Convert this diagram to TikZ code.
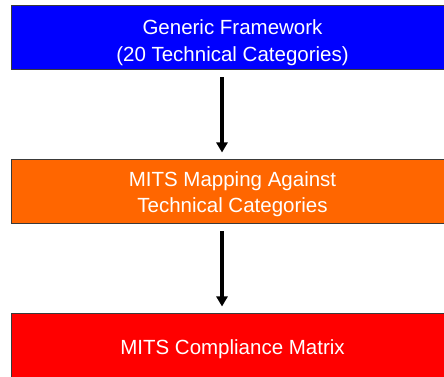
\documentclass[tikz,border=0pt]{standalone}
\usepackage{fontspec}
\setmainfont{Liberation Sans}
\usetikzlibrary{arrows.meta}
\definecolor{boxblue}{HTML}{0000FF}
\definecolor{boxorange}{HTML}{FF6600}
\definecolor{boxred}{HTML}{FF0000}
\definecolor{boxedge}{HTML}{3A3A3A}
\tikzset{
  stagebox/.style={draw=boxedge, line width=1pt, minimum width=443pt, inner sep=0pt},
  stagetext/.style={text=white, align=center, inner sep=0pt, anchor=base,
    font=\fontsize{20.5}{26.5}\selectfont},
  flowarrow/.style={line width=3.4pt, -{Triangle[length=10pt,width=11pt]},
    shorten <=7pt, shorten >=7pt}
}
\begin{document}
\begin{tikzpicture}[x=1pt,y=1pt]
\useasboundingbox (0,0) rectangle (444,377);
\node[stagebox, fill=boxblue, minimum height=64pt] (gen) at (232.5,339) {};
\node[stagebox, fill=boxorange, minimum height=64pt] (map) at (232.5,185) {};
\node[stagebox, fill=boxred, minimum height=66pt] (mat) at (232.5,30) {};
\node[stagetext, anchor=base] (gent) at (232.5,342) {Generic Framework};
\node[stagetext, anchor=base] (gent2) at (232.5,315) {(20 Technical Categories)};
\node[stagetext, anchor=base] (mapt) at (232.5,190) {MITS Mapping Against};
\node[stagetext, anchor=base] (mapt2) at (232.5,164) {Technical Categories};
\node[stagetext, anchor=base] (matt) at (232.5,22) {MITS Compliance Matrix};
\coordinate (ax) at (222,0);
\draw[flowarrow] (gen.south -| ax) -- (map.north -| ax);
\draw[flowarrow] (map.south -| ax) -- (mat.north -| ax);
\end{tikzpicture}
\end{document}
